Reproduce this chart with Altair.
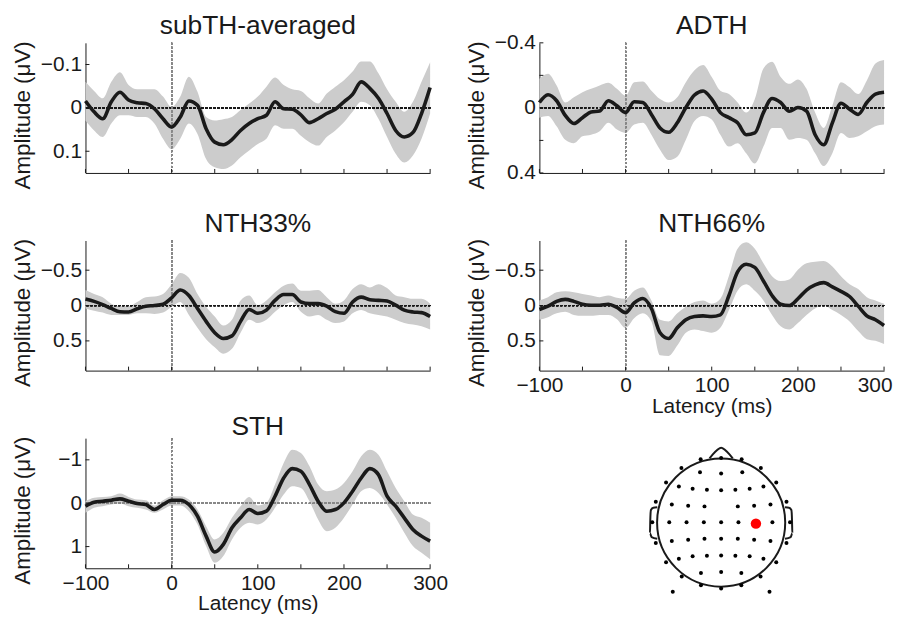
import altair as alt
import pandas as pd

# ---------------- data ----------------
ms = list(range(-100, 301, 10))

sub_mean = [-0.016, 0.009, 0.025, -0.014, -0.036, -0.018, -0.012, -0.010, 0.002, 0.025,
            0.044, 0.021, -0.016, -0.006, 0.048, 0.079, 0.085, 0.073, 0.052, 0.036,
            0.025, 0.017, -0.014, 0.002, 0.003, 0.016, 0.034, 0.025, 0.013, 0.003,
            -0.014, -0.031, -0.060, -0.045, -0.022, 0.013, 0.052, 0.067, 0.057, 0.013, -0.047]
sub_top = [-0.060, -0.039, -0.022, -0.060, -0.082, -0.053, -0.043, -0.043, -0.043, -0.026,
           -0.002, -0.026, -0.072, -0.037, 0.021, 0.029, 0.026, 0.021, 0.005, -0.010,
           -0.026, -0.049, -0.070, -0.053, -0.043, -0.039, -0.022, -0.010, -0.033, -0.049,
           -0.064, -0.084, -0.107, -0.107, -0.080, -0.043, -0.014, 0.009, -0.014, -0.060, -0.105]
sub_bot = [0.029, 0.052, 0.067, 0.036, 0.017, 0.017, 0.021, 0.021, 0.036, 0.071,
           0.095, 0.071, 0.036, 0.060, 0.118, 0.137, 0.141, 0.133, 0.114, 0.098,
           0.083, 0.071, 0.040, 0.048, 0.048, 0.064, 0.079, 0.087, 0.067, 0.052,
           0.033, 0.009, -0.014, -0.006, 0.025, 0.067, 0.106, 0.126, 0.110, 0.071, 0.013]

adth_mean = [-0.033, -0.081, -0.044, 0.046, 0.096, 0.060, 0.025, 0.019, -0.044, -0.013,
             0.029, -0.038, -0.033, 0.040, 0.123, 0.150, 0.092, -0.002, -0.079, -0.104,
             -0.054, 0.029, 0.060, 0.092, 0.165, 0.154, 0.029, -0.058, -0.033, 0.021,
             -0.002, 0.019, 0.165, 0.227, 0.092, -0.029, 0.008, 0.040, -0.033, -0.085, -0.096]
adth_top = [-0.179, -0.210, -0.138, -0.033, -0.065, -0.096, -0.117, -0.138, -0.154, -0.117,
            -0.075, -0.158, -0.163, -0.106, -0.054, -0.033, -0.065, -0.158, -0.231, -0.263,
            -0.190, -0.106, -0.085, -0.033, 0.029, -0.054, -0.242, -0.283, -0.190, -0.148,
            -0.175, -0.117, 0.029, 0.123, -0.013, -0.158, -0.127, -0.085, -0.169, -0.273, -0.294]
adth_bot = [0.060, 0.050, 0.113, 0.196, 0.217, 0.175, 0.165, 0.144, 0.092, 0.133,
            0.154, 0.102, 0.092, 0.165, 0.258, 0.321, 0.300, 0.196, 0.081, 0.050,
            0.071, 0.165, 0.238, 0.217, 0.279, 0.342, 0.238, 0.123, 0.123, 0.196,
            0.185, 0.196, 0.279, 0.358, 0.279, 0.154, 0.185, 0.175, 0.144, 0.113, 0.102]

n33_mean = [-0.091, -0.059, -0.014, 0.041, 0.087, 0.091, 0.046, 0.009, 0.000, -0.018,
            -0.110, -0.219, -0.142, 0.041, 0.224, 0.384, 0.466, 0.429, 0.224, 0.055,
            0.110, 0.064, -0.073, -0.155, -0.155, -0.050, -0.027, -0.027, 0.009, 0.087,
            0.110, -0.050, -0.119, -0.082, -0.073, -0.064, -0.005, 0.064, 0.091, 0.100, 0.155]
n33_top = [-0.219, -0.164, -0.119, -0.027, 0.009, 0.009, -0.050, -0.119, -0.128, -0.164,
           -0.301, -0.461, -0.393, -0.164, 0.018, 0.155, 0.283, 0.201, -0.073, -0.142,
           -0.005, -0.073, -0.187, -0.279, -0.311, -0.210, -0.210, -0.219, -0.119, -0.027,
           -0.073, -0.233, -0.301, -0.256, -0.301, -0.247, -0.142, -0.119, -0.096, -0.096, -0.027]
n33_bot = [0.041, 0.073, 0.100, 0.132, 0.132, 0.132, 0.110, 0.110, 0.119, 0.100,
           0.018, -0.050, 0.132, 0.315, 0.475, 0.589, 0.680, 0.612, 0.384, 0.201,
           0.247, 0.201, 0.087, -0.005, -0.050, 0.087, 0.155, 0.132, 0.201, 0.247,
           0.224, 0.110, 0.064, 0.110, 0.132, 0.155, 0.201, 0.247, 0.269, 0.292, 0.338]

n66_mean = [0.055, 0.009, -0.059, -0.087, -0.059, -0.018, -0.005, -0.005, -0.018, 0.027,
            0.100, -0.037, -0.100, 0.041, 0.384, 0.466, 0.315, 0.201, 0.155, 0.146,
            0.155, 0.132, -0.142, -0.475, -0.584, -0.539, -0.347, -0.142, -0.018, 0.000,
            -0.096, -0.219, -0.292, -0.324, -0.265, -0.201, -0.128, 0.009, 0.146, 0.201, 0.283]
n66_top = [-0.073, -0.119, -0.187, -0.201, -0.187, -0.164, -0.142, -0.119, -0.142, -0.110,
           -0.096, -0.210, -0.256, -0.073, 0.201, 0.224, 0.110, 0.018, -0.050, -0.073,
           -0.027, -0.096, -0.420, -0.804, -0.895, -0.804, -0.598, -0.416, -0.347, -0.370,
           -0.507, -0.598, -0.621, -0.630, -0.553, -0.416, -0.301, -0.233, -0.119, -0.073, -0.027]
n66_bot = [0.201, 0.164, 0.110, 0.087, 0.132, 0.146, 0.146, 0.132, 0.132, 0.192,
           0.315, 0.178, 0.110, 0.224, 0.703, 0.712, 0.566, 0.384, 0.338, 0.361,
           0.384, 0.315, 0.064, -0.210, -0.301, -0.210, -0.073, 0.132, 0.292, 0.338,
           0.247, 0.132, 0.041, -0.005, 0.064, 0.132, 0.224, 0.361, 0.475, 0.498, 0.543]

sth_mean = [0.069, -0.023, -0.046, -0.069, -0.100, -0.046, 0.008, 0.031, 0.146, 0.031,
            -0.069, -0.069, 0.031, 0.299, 0.759, 1.126, 0.950, 0.567, 0.337, 0.146,
            0.238, 0.184, -0.161, -0.582, -0.797, -0.736, -0.429, -0.046, 0.184, 0.146,
            -0.008, -0.276, -0.582, -0.797, -0.659, -0.161, 0.069, 0.337, 0.605, 0.759, 0.874]
sth_top = [-0.046, -0.123, -0.146, -0.161, -0.222, -0.146, -0.084, -0.069, 0.054, -0.069,
           -0.161, -0.161, -0.084, 0.146, 0.529, 0.835, 0.682, 0.337, 0.069, -0.146,
           0.054, -0.008, -0.429, -0.927, -1.234, -1.157, -0.851, -0.429, -0.276, -0.314,
           -0.467, -0.736, -1.080, -1.234, -1.119, -0.736, -0.352, -0.046, 0.261, 0.337, 0.452]
sth_bot = [0.222, 0.107, 0.069, 0.031, 0.008, 0.069, 0.107, 0.146, 0.222, 0.146,
           0.054, 0.054, 0.184, 0.490, 0.989, 1.372, 1.218, 0.835, 0.567, 0.452,
           0.490, 0.375, 0.107, -0.199, -0.391, -0.352, -0.046, 0.375, 0.644, 0.567,
           0.337, 0.031, -0.276, -0.352, -0.238, 0.031, 0.337, 0.682, 0.989, 1.142, 1.295]

x_label_values = [-100, 0, 100, 200, 300]
x_tick_values = [-100, -50, 0, 50, 100, 150, 200, 250, 300]

# electrode layout (head units, radius 1)
elec_x = [-0.32, 0.0, 0.32,
          -0.62, 0.62,
          -0.33, 0.0, 0.33,
          -0.86, 0.86,
          -0.66, -0.445, -0.222, 0.0, 0.222, 0.445, 0.66,
          -1.02, 1.02,
          -0.77, -0.515, -0.26, 0.26, 0.515, 0.77,
          -1.075, -0.81, -0.54, -0.27, 0.0, 0.27, 0.80, 1.075,
          -1.02, 1.02,
          -0.77, -0.515, -0.26, 0.0, 0.26, 0.515, 0.77,
          -0.86, 0.86,
          -0.66, -0.445, -0.222, 0.0, 0.222, 0.445, 0.66,
          -0.615, 0.615,
          -0.315, 0.0, 0.315,
          -0.315, 0.0, 0.315,
          -0.755, 0.755]
elec_y = [0.987, 1.008, 0.987,
          0.853, 0.853,
          0.786, 0.765, 0.786,
          0.625, 0.625,
          0.563, 0.527, 0.512, 0.506, 0.512, 0.527, 0.563,
          0.326, 0.326,
          0.284, 0.264, 0.253, 0.253, 0.264, 0.284,
          0.005, 0.005, 0.005, 0.005, 0.005, 0.005, 0.005, 0.005,
          -0.32, -0.32,
          -0.289, -0.269, -0.253, -0.253, -0.253, -0.269, -0.289,
          -0.62, -0.62,
          -0.563, -0.527, -0.517, -0.512, -0.517, -0.527, -0.563,
          -0.842, -0.842,
          -0.786, -0.77, -0.786,
          -0.977, -1.028, -0.977,
          -1.08, -1.08]
sel_x = [0.543]
sel_y = [-0.016]

nose_x = [-0.181, -0.026, 0.0, 0.026, 0.181]
nose_y = [1.003, 1.158, 1.168, 1.158, 1.003]
lear_x = [-0.997, -1.059, -1.096, -1.106, -1.111, -1.085, -0.997]
lear_y = [0.238, 0.233, 0.196, 0.041, -0.165, -0.227, -0.253]
rear_x = [0.997, 1.059, 1.096, 1.106, 1.111, 1.085, 0.997]
rear_y = [0.238, 0.233, 0.196, 0.041, -0.165, -0.227, -0.253]

# ---------------- styling ----------------
FONT = "Liberation Sans"
INK = "#1a1a1a"
W, H = 347, 131
TICK = 4


def panel(title, mean, top, bot, dom, yvals, show_x, zero_color, tgap, last_right=False):
    df = pd.DataFrame({"ms": ms, "mean": mean, "top": top, "bot": bot})
    xs = alt.Scale(domain=[-100, 300], nice=False, zero=False)
    ys = alt.Scale(domain=dom, reverse=True, nice=False, zero=False)
    xkw = dict(values=x_label_values, labels=show_x,
               title="Latency (ms)" if show_x else "", titlePadding=0)
    if last_right:
        xkw["labelAlign"] = {"condition": {"test": "datum.value == 300", "value": "right"},
                             "value": "center"}
        xkw["labelOffset"] = {"condition": {"test": "datum.value == 300", "value": 8},
                              "value": 0}
    xaxis = alt.Axis(**xkw)
    yaxis = alt.Axis(values=yvals, format="~g", title="Amplitude (\u03bcV)",
                     titleX=-56, titleY=H / 2 + 7, titleBaseline="alphabetic",
                     titleAngle=-90, titleAlign="center")
    base = alt.Chart(df)
    band = base.mark_area(color="#cccccc", opacity=1, interpolate="monotone").encode(
        x=alt.X("ms:Q", scale=xs, axis=xaxis),
        y=alt.Y("top:Q", scale=ys, axis=yaxis),
        y2="bot:Q",
    )
    hz = base.mark_rule(color=zero_color, strokeDash=[2, 2], strokeWidth=1).encode(
        y=alt.Y(datum=0))
    vz = base.mark_rule(color="#888888", strokeDash=[2, 2], strokeWidth=1).encode(
        x=alt.X(datum=0))
    line = base.mark_line(color=INK, strokeWidth=3.6, interpolate="monotone").encode(
        x="ms:Q", y="mean:Q")
    xt = alt.Chart(pd.DataFrame({"t": x_tick_values})).mark_rule(
        color=INK, strokeWidth=1).encode(
        x="t:Q", y=alt.value(H), y2=alt.value(H - TICK))
    yt = alt.Chart(pd.DataFrame({"v": yvals})).mark_rule(
        color=INK, strokeWidth=1).encode(
        y="v:Q", x=alt.value(0), x2=alt.value(TICK))
    ttl = alt.Chart(pd.DataFrame({"t": [title]})).mark_text(
        font=FONT, fontSize=26.5, color=INK, align="center", baseline="alphabetic"
    ).encode(text="t:N", x=alt.value(W / 2), y=alt.value(-tgap))
    return alt.layer(band, hz, vz, line, xt, yt, ttl).properties(width=W, height=H)


p1 = panel("subTH-averaged", sub_mean, sub_top, sub_bot, [-0.15, 0.15], [-0.1, 0, 0.1],
           False, INK, 9)
p2 = panel("ADTH", adth_mean, adth_top, adth_bot, [-0.4, 0.4], [-0.4, -0.2, 0, 0.2, 0.4],
           False, INK, 9)
p3 = panel("NTH33%", n33_mean, n33_top, n33_bot, [-0.92, 0.92], [-0.5, 0, 0.5],
           False, INK, 9)
p4 = panel("NTH66%", n66_mean, n66_top, n66_bot, [-0.92, 0.92], [-0.5, 0, 0.5],
           True, INK, 9, last_right=True)
p5 = panel("STH", sth_mean, sth_top, sth_bot, [-1.5, 1.5], [-1, 0, 1],
           True, "#888888", 3)

# ---------------- head map ----------------
hsx = alt.Scale(domain=[-2.837, 2.543], nice=False, zero=False)
hsy = alt.Scale(domain=[-0.713, 1.318], nice=False, zero=False)

head_circle = alt.Chart(pd.DataFrame({"x": [0.0], "y": [0.0]})).mark_point(
    shape="circle", size=16641, filled=False, color=INK, strokeWidth=2, opacity=1
).encode(x=alt.X("x:Q", scale=hsx, axis=None), y=alt.Y("y:Q", scale=hsy, axis=None))


def outline(xs_, ys_):
    d = pd.DataFrame({"x": xs_, "y": ys_, "o": list(range(len(xs_)))})
    return alt.Chart(d).mark_line(color=INK, strokeWidth=2, interpolate="monotone").encode(
        x=alt.X("x:Q", scale=hsx, axis=None), y=alt.Y("y:Q", scale=hsy, axis=None),
        order="o:Q")


nose = outline(nose_x, nose_y)
lear = outline(lear_x, lear_y)
rear = outline(rear_x, rear_y)

elecs = alt.Chart(pd.DataFrame({"x": elec_x, "y": elec_y})).mark_circle(
    size=16, color="#000000", opacity=1).encode(
    x=alt.X("x:Q", scale=hsx, axis=None), y=alt.Y("y:Q", scale=hsy, axis=None))
sel = alt.Chart(pd.DataFrame({"x": sel_x, "y": sel_y})).mark_circle(
    size=110, color="#ff0000", opacity=1).encode(
    x=alt.X("x:Q", scale=hsx, axis=None), y=alt.Y("y:Q", scale=hsy, axis=None))

head = alt.layer(head_circle, nose, lear, rear, elecs, sel).properties(width=W, height=H)

chart = alt.concat(
    p1, p2, p3, p4, p5, head,
    columns=2, spacing={"row": 68, "column": 110}, bounds="flush",
).properties(
    padding={"left": 3, "top": 2, "right": 0, "bottom": 0},
    background="white",
).configure_view(
    stroke="transparent"
).configure_axis(
    labelFont=FONT, titleFont=FONT, labelFontSize=21,
    labelColor=INK, titleColor=INK, titleFontWeight="normal",
    domainColor=INK, domainWidth=1, grid=False, ticks=False, tickSize=0,
    labelPadding=4, labelFlush=False, labelOverlap=False,
).configure_axisX(
    titleFontSize=21
).configure_axisY(
    titleFontSize=22.5
)

chart.save("out.html", embed_options={"renderer": "svg", "actions": False})
